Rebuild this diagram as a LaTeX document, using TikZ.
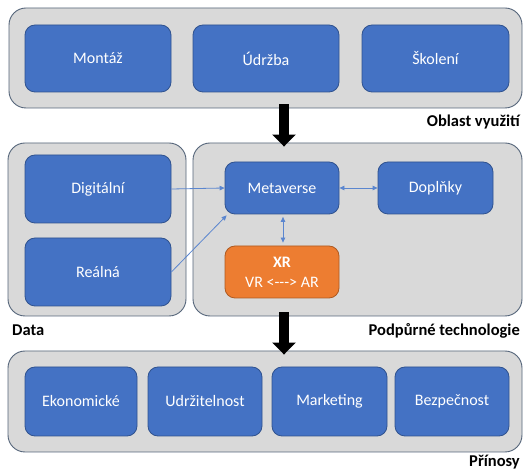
\documentclass[tikz,border=0pt]{standalone}
\usepackage{fontspec}
\setmainfont{Carlito}
\usetikzlibrary{arrows.meta}
\definecolor{boxblue}{HTML}{4472C4}
\definecolor{boxborder}{HTML}{2F528F}
\definecolor{xrorange}{HTML}{ED7D31}
\definecolor{xrborder}{HTML}{AE5A21}
\definecolor{contfill}{HTML}{D9D9D9}
\definecolor{contborder}{HTML}{55657A}
\definecolor{linkblue}{HTML}{5B86CF}
\tikzset{
  cont/.style={draw=contborder, fill=contfill, line width=0.9pt, rounded corners=17pt, inner sep=0pt},
  bbox/.style={draw=boxborder, fill=boxblue, line width=0.8pt, rounded corners=10pt, text=white,
    font=\fontsize{16}{20}\selectfont, inner sep=0pt, align=center},
  xrbox/.style={bbox, draw=xrborder, fill=xrorange},
  grplabel/.style={font=\fontsize{16.5}{20}\selectfont\bfseries, text=black, inner sep=0pt},
  link/.style={draw=linkblue, line width=0.8pt, -{Triangle[length=5pt,width=4.5pt]}},
  dlink/.style={draw=linkblue, line width=0.8pt, {Triangle[length=5pt,width=4.5pt]}-{Triangle[length=5pt,width=4.5pt]}},
  bigarrow/.style={draw=black, line width=10pt, -{Triangle[length=12pt,width=23pt]}}
}
\begin{document}
\begin{tikzpicture}[x=1pt,y=-1pt]
\useasboundingbox (0,0) rectangle (523,470);
\fill[white] (0,0) rectangle (523,470);
% top group
\node[cont, minimum width=513pt, minimum height=100pt] (oblast) at (265.5,58) {};
\node[bbox, minimum width=146pt, minimum height=67pt] (montaz) at (98,58.5) {Montáž};
\node[bbox, minimum width=146pt, minimum height=67pt] (udrzba) at (266,58.5) {Údržba};
\node[bbox, minimum width=147pt, minimum height=67pt] (skoleni) at (435.5,58.5) {Školení};
\node[grplabel, anchor=base east] (loblast) at (520,127) {Oblast využití};
% middle groups
\node[cont, minimum width=178pt, minimum height=173pt] (data) at (97,229.5) {};
\node[cont, minimum width=329pt, minimum height=173pt] (podp) at (357.5,229.5) {};
\node[bbox, minimum width=146pt, minimum height=68pt] (digi) at (98,189) {Digitální};
\node[bbox, minimum width=146pt, minimum height=68pt] (real) at (98,272) {Reálná};
\node[bbox, minimum width=114pt, minimum height=52pt] (meta) at (282,188) {Metaverse};
\node[bbox, minimum width=115pt, minimum height=52pt] (dopl) at (435.5,188) {Doplňky};
\node[xrbox, minimum width=114pt, minimum height=52pt] (xr) at (282,272) {\textbf{XR}\\VR <{-}{-}{-}> AR};
\node[grplabel, anchor=base west] (ldata) at (12,336) {Data};
\node[grplabel, anchor=base east] (lpodp) at (520,336) {Podpůrné technologie};
% bottom group
\node[cont, minimum width=514pt, minimum height=101pt] (prinosy) at (265,401.5) {};
\node[bbox, minimum width=112pt, minimum height=69pt] (ekon) at (81,401.5) {Ekonomické};
\node[bbox, minimum width=114pt, minimum height=69pt] (udrz) at (205,401.5) {Udržitelnost};
\node[bbox, minimum width=115pt, minimum height=69pt] (mark) at (329.5,401.5) {Marketing};
\node[bbox, minimum width=114pt, minimum height=69pt] (bezp) at (452,401.5) {Bezpečnost};
\node[grplabel, anchor=base east] (lprin) at (520,467) {Přínosy};
% connectors
\draw[link] (digi.east) -- (meta.west);
\draw[link] (real.east) -- ([xshift=2pt,yshift=-1pt]meta.south west);
\draw[dlink] (meta.east) -- (dopl.west);
\draw[dlink, shorten <=2.5pt, shorten >=3pt] ([xshift=1pt]meta.south) -- ([xshift=1pt]xr.north);
% block arrows
\coordinate (a1s) at ([xshift=18.5pt,yshift=4pt]oblast.south);
\coordinate (a1e) at ([xshift=18.5pt,yshift=-4pt]oblast.south |- podp.north);
\draw[bigarrow] (a1s) -- (a1e);
\coordinate (a2s) at ([xshift=-73.5pt,yshift=4pt]podp.south);
\coordinate (a2e) at ([xshift=-73.5pt,yshift=-4pt]podp.south |- prinosy.north);
\draw[bigarrow] (a2s) -- (a2e);
\end{tikzpicture}
\end{document}
